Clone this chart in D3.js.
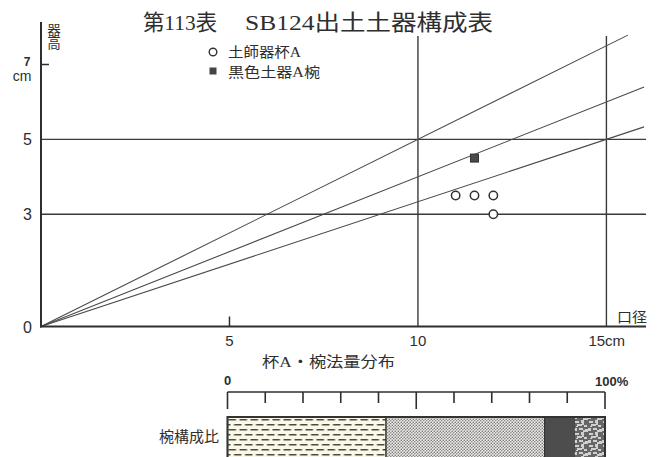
<!DOCTYPE html>
<html>
<head>
<meta charset="utf-8">
<script src="https://cdn.jsdelivr.net/npm/d3@7"></script>
<style>
  html, body { margin: 0; padding: 0; background: #fff; }
  svg { display: block; }
</style>
</head>
<body>
<script>
// ---------- data ----------
const titleLeft = "第113表";
const titleRight = "SB124出土土器構成表";
const cupA = [ {d: 11, h: 3.5}, {d: 11.5, h: 3.5}, {d: 12, h: 3.5}, {d: 12, h: 3.0} ]; // 土師器杯A
const bowlA = [ {d: 11.5, h: 4.5} ];                                              // 黒色土器A椀
const ratioLines = [ {ratio: 0.5, end: 15.57}, {ratio: 0.4, end: 16}, {ratio: 1/3, end: 16} ];
const gridHeights = [3, 5];
const gridDiameters = [10, 15];
const yTickLabels = [ {v: 0, t: "0"}, {v: 3, t: "3"}, {v: 5, t: "5"} ];
const xTickLabels = [ {v: 5, t: "5"}, {v: 10, t: "10"}, {v: 15, t: "15cm"} ];
const legendItems = ["土師器杯A", "黒色土器A椀"];
const pctTicks = [0, 10, 20, 30, 40, 50, 60, 70, 80, 90, 100];
const composition = [
  {name: "a", value: 42},
  {name: "b", value: 42},
  {name: "c", value: 8},
  {name: "d", value: 8}
];

// ---------- setup ----------
const W = 661, H = 457;
const ink = "#2e2e2e";
const sans = "'Liberation Sans', Arial, sans-serif";
const serif = "'Liberation Serif', 'Noto Sans CJK JP', serif";
const cjk = "'Noto Sans CJK JP', sans-serif";

const svg = d3.select("body").append("svg").attr("width", W).attr("height", H);
svg.append("rect").attr("width", W).attr("height", H).attr("fill", "#fff");

const x = d3.scaleLinear().domain([0, 16.05]).range([41, 646]);
const y = d3.scaleLinear().domain([0, 7]).range([326.5, 64.5]);

// ---------- patterns ----------
const defs = svg.append("defs");
const pDash = defs.append("pattern").attr("id", "dash").attr("patternUnits", "userSpaceOnUse")
  .attr("width", 11).attr("height", 10).attr("x", 227.5).attr("y", 417);
pDash.append("rect").attr("width", 11).attr("height", 10).attr("fill", "#fbf8e6");
pDash.append("rect").attr("x", 1).attr("y", 2).attr("width", 7.5).attr("height", 1.5).attr("fill", "#4a4a4a");
pDash.append("rect").attr("x", 6.5).attr("y", 7).attr("width", 7.5).attr("height", 1.5).attr("fill", "#4a4a4a");
pDash.append("rect").attr("x", -4.5).attr("y", 7).attr("width", 7.5).attr("height", 1.5).attr("fill", "#4a4a4a");

const pDot = defs.append("pattern").attr("id", "dot").attr("patternUnits", "userSpaceOnUse")
  .attr("width", 3).attr("height", 3);
pDot.append("rect").attr("width", 3).attr("height", 3).attr("fill", "#eeece8");
pDot.append("circle").attr("cx", 0.8).attr("cy", 0.8).attr("r", 0.8).attr("fill", "#7a7a7a");
pDot.append("circle").attr("cx", 2.3).attr("cy", 2.3).attr("r", 0.8).attr("fill", "#7a7a7a");

const pMot = defs.append("pattern").attr("id", "mot").attr("patternUnits", "userSpaceOnUse")
  .attr("width", 14).attr("height", 12);
pMot.append("rect").attr("width", 14).attr("height", 12).attr("fill", "#666");
[[1,1,4,2],[7,0,3,3],[3,4,5,2],[10,5,3,2],[0,8,3,3],[5,8,4,2],[11,9,3,3],[8,3,2,2],[2,6,2,1],[9,10,2,2]].forEach(r => {
  pMot.append("rect").attr("x", r[0]).attr("y", r[1]).attr("width", r[2]).attr("height", r[3]).attr("fill", "#d0d0d0");
});

// ---------- title ----------
svg.append("text").attr("x", 143).attr("y", 30).attr("font-family", serif).attr("font-size", 22)
  .attr("fill", ink).attr("textLength", 74).attr("lengthAdjust", "spacingAndGlyphs").text(titleLeft);
svg.append("text").attr("x", 245).attr("y", 30).attr("font-family", serif).attr("font-size", 22)
  .attr("fill", ink).attr("textLength", 248).attr("lengthAdjust", "spacingAndGlyphs").text(titleRight);

// ---------- grid lines ----------
const g = svg.append("g");
gridHeights.forEach(h => {
  g.append("line").attr("x1", x(0)).attr("x2", 646).attr("y1", y(h)).attr("y2", y(h))
    .attr("stroke", "#3a3a3a").attr("stroke-width", 1.4);
});
gridDiameters.forEach(d => {
  g.append("line").attr("x1", x(d)).attr("x2", x(d)).attr("y1", y(0)).attr("y2", 36)
    .attr("stroke", "#3a3a3a").attr("stroke-width", 1.4);
});

// ratio lines
ratioLines.forEach(r => {
  g.append("line").attr("x1", x(0)).attr("y1", y(0)).attr("x2", x(r.end)).attr("y2", y(r.end * r.ratio))
    .attr("stroke", "#4a4a4a").attr("stroke-width", 1.1);
});

// axes
g.append("line").attr("x1", x(0)).attr("x2", x(0)).attr("y1", y(0) + 1).attr("y2", 22)
  .attr("stroke", ink).attr("stroke-width", 2);
g.append("line").attr("x1", x(0) - 1).attr("x2", 646).attr("y1", y(0)).attr("y2", y(0))
  .attr("stroke", ink).attr("stroke-width", 2);
g.append("line").attr("x1", x(0)).attr("x2", x(0) + 8).attr("y1", y(7)).attr("y2", y(7))
  .attr("stroke", ink).attr("stroke-width", 1.5);
g.append("line").attr("x1", x(5)).attr("x2", x(5)).attr("y1", y(0)).attr("y2", y(0) - 10)
  .attr("stroke", ink).attr("stroke-width", 1.5);

// axis labels
yTickLabels.forEach(t => {
  svg.append("text").attr("x", 27.5).attr("y", y(t.v) + 6).attr("text-anchor", "middle")
    .attr("font-family", sans).attr("font-size", 16).attr("fill", ink).text(t.t);
});
svg.append("text").attr("x", 27).attr("y", 65.5).attr("text-anchor", "middle")
  .attr("font-family", sans).attr("font-size", 12).attr("font-weight", "bold").attr("fill", ink).text("7");
svg.append("text").attr("x", 22).attr("y", 80.5).attr("text-anchor", "middle")
  .attr("font-family", sans).attr("font-size", 14).attr("fill", ink).text("cm");
xTickLabels.forEach(t => {
  const anchor = t.t.length > 2 ? "start" : "middle";
  const xx = t.t.length > 2 ? x(t.v) - 18 : x(t.v);
  svg.append("text").attr("x", xx).attr("y", 346).attr("text-anchor", anchor)
    .attr("font-family", sans).attr("font-size", 15).attr("fill", ink).text(t.t);
});
svg.append("text").attr("x", 617).attr("y", 322).attr("font-family", cjk).attr("font-size", 14)
  .attr("fill", ink).attr("textLength", 30).attr("lengthAdjust", "spacingAndGlyphs").text("口径");
svg.append("text").attr("x", 54).attr("y", 23).attr("font-family", cjk).attr("font-size", 13.5)
  .attr("fill", ink).style("writing-mode", "vertical-rl").text("器高");

// ---------- points ----------
g.selectAll("circle.cup").data(cupA).enter().append("circle").attr("class", "cup")
  .attr("cx", d => x(d.d)).attr("cy", d => y(d.h)).attr("r", 4.2)
  .attr("fill", "#fff").attr("stroke", "#333").attr("stroke-width", 1.5);
g.selectAll("rect.bowl").data(bowlA).enter().append("rect").attr("class", "bowl")
  .attr("x", d => x(d.d) - 4).attr("y", d => y(d.h) - 4).attr("width", 8).attr("height", 8)
  .attr("fill", "#4a4a4a").attr("stroke", "#333").attr("stroke-width", 1);

// ---------- legend ----------
svg.append("circle").attr("cx", 213).attr("cy", 52).attr("r", 3.8).attr("fill", "#fff")
  .attr("stroke", "#333").attr("stroke-width", 1.4);
svg.append("rect").attr("x", 209.5).attr("y", 67.5).attr("width", 7).attr("height", 7).attr("fill", "#444");
svg.append("text").attr("x", 228).attr("y", 57).attr("font-family", serif).attr("font-size", 14)
  .attr("fill", ink).attr("textLength", 73).attr("lengthAdjust", "spacingAndGlyphs").text(legendItems[0]);
svg.append("text").attr("x", 228).attr("y", 77).attr("font-family", serif).attr("font-size", 14)
  .attr("fill", ink).attr("textLength", 92).attr("lengthAdjust", "spacingAndGlyphs").text(legendItems[1]);

// ---------- composition bar ----------
const p = d3.scaleLinear().domain([0, 100]).range([227.5, 605]);
svg.append("text").attr("x", 262).attr("y", 367).attr("font-family", serif).attr("font-size", 15)
  .attr("fill", ink).attr("textLength", 133).attr("lengthAdjust", "spacingAndGlyphs").text("杯A・椀法量分布");
svg.append("line").attr("x1", p(0)).attr("x2", p(100)).attr("y1", 392).attr("y2", 392)
  .attr("stroke", ink).attr("stroke-width", 1.6);
svg.selectAll("line.pt").data(pctTicks).enter().append("line").attr("class", "pt")
  .attr("x1", d => p(d)).attr("x2", d => p(d)).attr("y1", 392)
  .attr("y2", d => (d % 50 === 0) ? 409 : 403)
  .attr("stroke", ink).attr("stroke-width", 1.6);
svg.append("text").attr("x", p(0)).attr("y", 385).attr("text-anchor", "middle")
  .attr("font-family", sans).attr("font-size", 13).attr("font-weight", "bold").attr("fill", ink).text("0");
svg.append("text").attr("x", 595).attr("y", 386)
  .attr("font-family", sans).attr("font-size", 13).attr("font-weight", "bold").attr("fill", ink).text("100%");

let acc = 0;
const segs = composition.map(c => { const s = {name: c.name, x0: acc, x1: acc + c.value}; acc += c.value; return s; });
const fills = {a: "url(#dash)", b: "url(#dot)", c: "#4d4d4d", d: "url(#mot)"};
svg.selectAll("rect.seg").data(segs).enter().append("rect").attr("class", "seg")
  .attr("x", d => p(d.x0)).attr("width", d => p(d.x1) - p(d.x0))
  .attr("y", 417).attr("height", 45)
  .attr("fill", d => fills[d.name]).attr("stroke", d => d.name === "d" ? "none" : "#333").attr("stroke-width", 1.2);
svg.append("rect").attr("x", p(0)).attr("y", 417).attr("width", p(100) - p(0)).attr("height", 45)
  .attr("fill", "none").attr("stroke", "#333").attr("stroke-width", 2);
svg.append("text").attr("x", 219).attr("y", 442).attr("text-anchor", "end")
  .attr("font-family", serif).attr("font-size", 15).attr("fill", ink).text("椀構成比");
</script>
</body>
</html>
